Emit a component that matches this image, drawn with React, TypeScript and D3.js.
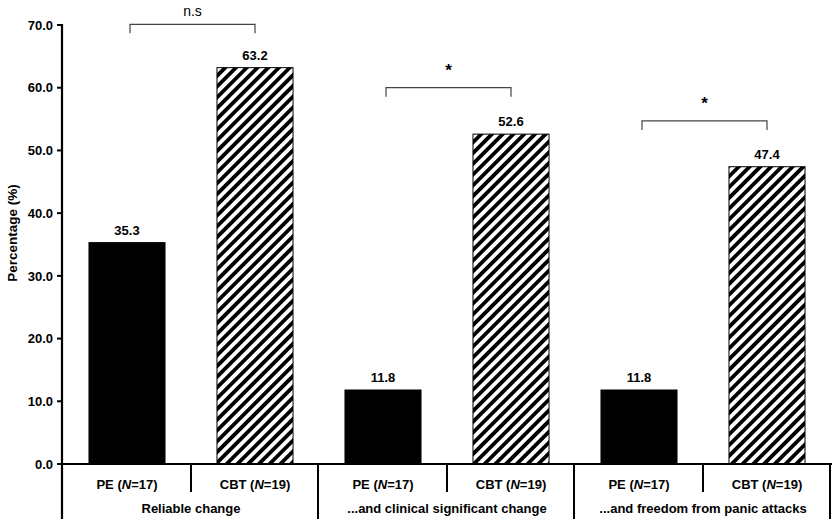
import React from "react";
import * as d3 from "d3";

const groups = ["Reliable change", "...and clinical significant change", "...and freedom from panic attacks"];
const conditions = ["PE", "CBT"];
const conditionN = [17, 19];
const peValues = [35.3, 11.8, 11.8];
const cbtValues = [63.2, 52.6, 47.4];
const bracketLevels = [70.1, 60.0, 54.7];
const bracketLabels = ["n.s", "*", "*"];
const yTicks = [0, 10, 20, 30, 40, 50, 60, 70];

const W = 834;
const H = 519;
const FONT = "'Liberation Sans', Arial, Helvetica, sans-serif";

export default function App() {
  const axisX = 62;
  const y0 = 464;
  const y = d3.scaleLinear().domain([0, 70]).range([y0, 25]);
  const gx = d3.scaleBand<string>().domain(groups).range([63, 831]).padding(0);
  const ix = d3
    .scaleBand<string>()
    .domain(conditions)
    .range([0, gx.bandwidth()])
    .paddingInner(0.406)
    .paddingOuter(0.203);
  const fmt = d3.format(".1f");
  const values = [peValues, cbtValues];
  const half = gx.bandwidth() / 2;

  return (
    <svg
      width={W}
      height={H}
      style={{ position: "absolute", left: 0, top: 0, background: "#fff" }}
      fontFamily={FONT}
    >
      <defs>
        <pattern
          id="hatch"
          patternUnits="userSpaceOnUse"
          width={7.6}
          height={7.6}
          patternTransform="rotate(45)"
        >
          <rect x={0} y={0} width={7.6} height={7.6} fill="#fff" />
          <rect x={0} y={0} width={3.8} height={7.6} fill="#000" />
        </pattern>
      </defs>

      {/* bars */}
      {groups.map((g, gi) =>
        conditions.map((c, ci) => {
          const v = values[ci][gi];
          const x = (gx(g) as number) + (ix(c) as number);
          const bw = ix.bandwidth();
          return (
            <g key={g + c}>
              <rect
                x={x}
                y={y(v)}
                width={bw}
                height={y0 - y(v)}
                fill={ci === 0 ? "#000" : "url(#hatch)"}
                stroke="#000"
                strokeWidth={1}
              />
              <text
                x={x + bw / 2}
                y={y(v) - 8}
                textAnchor="middle"
                fontSize={13}
                fontWeight="bold"
              >
                {fmt(v)}
              </text>
            </g>
          );
        })
      )}

      {/* brackets */}
      {groups.map((g, gi) => {
        const bw = ix.bandwidth();
        const x1 = (gx(g) as number) + (ix("PE") as number) + bw / 2 + 3;
        const x2 = (gx(g) as number) + (ix("CBT") as number) + bw / 2;
        const by = y(bracketLevels[gi]);
        const isNs = bracketLabels[gi] === "n.s";
        return (
          <g key={"br" + g}>
            <path
              d={`M${x1},${by + 9}V${by}H${x2}V${by + 9}`}
              fill="none"
              stroke="#444"
              strokeWidth={1.2}
            />
            <text
              x={(x1 + x2) / 2}
              y={isNs ? by - 8 : by - 12}
              textAnchor="middle"
              fontSize={isNs ? 14 : 17}
              fontWeight={isNs ? "normal" : "bold"}
            >
              {bracketLabels[gi]}
            </text>
          </g>
        );
      })}

      {/* y axis */}
      <line x1={axisX} x2={axisX} y1={y(70) - 1} y2={H} stroke="#000" strokeWidth={2.2} />
      {yTicks.map((t) => (
        <g key={t}>
          <line x1={axisX - 5} x2={axisX} y1={y(t)} y2={y(t)} stroke="#000" strokeWidth={2} />
          <text
            x={axisX - 9}
            y={y(t)}
            dy="0.36em"
            textAnchor="end"
            fontSize={13}
            fontWeight="bold"
          >
            {fmt(t)}
          </text>
        </g>
      ))}
      <text
        transform={`translate(17,${233}) rotate(-90)`}
        textAnchor="middle"
        fontSize={13.5}
        fontWeight="bold"
      >
        Percentage (%)
      </text>

      {/* baseline / table */}
      <line x1={axisX - 1} x2={832} y1={y0} y2={y0} stroke="#000" strokeWidth={2.2} />
      {groups.map((g, gi) => {
        const gStart = gx(g) as number;
        const gEnd = gStart + gx.bandwidth();
        return (
          <g key={"tb" + g}>
            <line x1={gStart + half} x2={gStart + half} y1={y0} y2={492} stroke="#000" strokeWidth={2} />
            <line x1={gEnd - 1} x2={gEnd - 1} y1={y0} y2={H} stroke="#000" strokeWidth={2} />
            {conditions.map((c, ci) => (
              <text
                key={c}
                x={gStart + half * ci + half / 2}
                y={484}
                dy="0.36em"
                textAnchor="middle"
                fontSize={13}
                fontWeight="bold"
              >
                {c} (<tspan fontStyle="italic">N</tspan>={conditionN[ci]})
              </text>
            ))}
            <text
              x={gStart + half}
              y={508}
              dy="0.36em"
              textAnchor="middle"
              fontSize={13}
              fontWeight="bold"
            >
              {g}
            </text>
          </g>
        );
      })}
    </svg>
  );
}
